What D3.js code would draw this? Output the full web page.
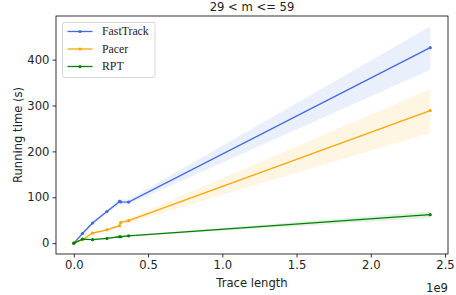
<!DOCTYPE html>
<html>
<head>
<meta charset="utf-8">
<script src="https://cdn.jsdelivr.net/npm/d3@7"></script>
<style>
  body { margin: 0; background: #fff; }
  svg text { font-family: "DejaVu Sans", sans-serif; fill: #222; }
</style>
</head>
<body>
<script>

// data
var traceLength = [0, 0.058e9, 0.126e9, 0.223e9, 0.308e9, 0.315e9, 0.369e9, 2.4e9];

var fastTrack      = [0, 21, 44, 69, 91, 90, 89.5, 426];
var fastTrackLow   = [0, 19, 40, 65, 85, 84, 84, 378];
var fastTrackHigh  = [0, 23, 48, 73, 97, 96, 95, 472];

var pacer      = [0, 7.6, 22, 29, 38, 45, 49, 289];
var pacerLow   = [0, 6.5, 20, 27, 35, 41, 44, 240];
var pacerHigh  = [0, 8.5, 24, 31, 41, 49, 54, 336];

var rpt      = [0, 9, 7.6, 10.4, 14, 14, 16, 62];
var rptLow   = [0, 8, 6.8, 9.5, 12.8, 12.8, 14.6, 55];
var rptHigh  = [0, 10, 8.4, 11.3, 15.2, 15.2, 17.4, 69];

var xTicks = [0, 0.5e9, 1.0e9, 1.5e9, 2.0e9, 2.5e9];
var yTicks = [0, 100, 200, 300, 400];

var seriesNames = ["FastTrack", "Pacer", "RPT"];
var seriesColors = ["#4169e1", "#ffa500", "#008000"];

var W = 456, H = 295;
var plot = {left: 56, right: 448, top: 16, bottom: 254};
var fs = "11.6px";

var xScale = d3.scaleLinear().domain([-0.12e9, 2.52e9]).range([plot.left, plot.right]);
var yScale = d3.scaleLinear().domain([-23.6, 495]).range([plot.bottom, plot.top]);

var svg = d3.select("body").append("svg")
    .attr("width", W)
    .attr("height", H);

function makeSeries(vals, low, high) {
    return traceLength.map(function(x, i) {
        return {x: x, y: vals[i], lo: low[i], hi: high[i]};
    });
}

var allSeries = [
    makeSeries(fastTrack, fastTrackLow, fastTrackHigh),
    makeSeries(pacer, pacerLow, pacerHigh),
    makeSeries(rpt, rptLow, rptHigh)
];

var area = d3.area()
    .x(function(d) { return xScale(d.x); })
    .y0(function(d) { return yScale(d.lo); })
    .y1(function(d) { return yScale(d.hi); });

var line = d3.line()
    .x(function(d) { return xScale(d.x); })
    .y(function(d) { return yScale(d.y); });

// bands first, then lines
allSeries.forEach(function(s, i) {
    svg.append("path")
        .attr("d", area(s))
        .attr("fill", seriesColors[i])
        .attr("fill-opacity", 0.11)
        .attr("stroke", "none");
});

allSeries.forEach(function(s, i) {
    svg.append("path")
        .attr("d", line(s))
        .attr("fill", "none")
        .attr("stroke", seriesColors[i])
        .attr("stroke-width", 1.3);

    svg.selectAll(".pt" + i).data(s).enter()
        .append("circle")
        .attr("class", "pt" + i)
        .attr("cx", function(d) { return xScale(d.x); })
        .attr("cy", function(d) { return yScale(d.y); })
        .attr("r", 1.6)
        .attr("fill", seriesColors[i]);
});

// axes
var xAxis = d3.axisBottom(xScale).tickValues(xTicks)
    .tickFormat(function(d) { return (d / 1e9).toFixed(1); })
    .tickSize(3.5).tickPadding(3);
var yAxis = d3.axisLeft(yScale).tickValues(yTicks)
    .tickFormat(d3.format("d"))
    .tickSize(3.5).tickPadding(3);

var gx = svg.append("g")
    .attr("transform", "translate(0," + plot.bottom + ")")
    .call(xAxis);
var gy = svg.append("g")
    .attr("transform", "translate(" + plot.left + ",0)")
    .call(yAxis);

[gx, gy].forEach(function(g) {
    g.select(".domain").remove();
    g.selectAll("line").attr("stroke", "#000").attr("stroke-width", 0.8);
    g.selectAll("text").style("font-size", fs).style("font-family", "DejaVu Sans").attr("fill", "#222");
});

// frame
svg.append("rect")
    .attr("x", plot.left)
    .attr("y", plot.top)
    .attr("width", plot.right - plot.left)
    .attr("height", plot.bottom - plot.top)
    .attr("fill", "none")
    .attr("stroke", "#000")
    .attr("stroke-width", 0.8);

// labels
svg.append("text")
    .attr("x", (plot.left + plot.right) / 2)
    .attr("y", 11)
    .attr("text-anchor", "middle")
    .style("font-size", fs)
    .text("29 < m <= 59");

svg.append("text")
    .attr("x", (plot.left + plot.right) / 2)
    .attr("y", 287)
    .attr("text-anchor", "middle")
    .style("font-size", fs)
    .text("Trace length");

svg.append("text")
    .attr("x", plot.right)
    .attr("y", 292)
    .attr("text-anchor", "end")
    .style("font-size", fs)
    .text("1e9");

svg.append("text")
    .attr("transform", "translate(22," + ((plot.top + plot.bottom) / 2) + ") rotate(-90)")
    .attr("text-anchor", "middle")
    .style("font-size", fs)
    .text("Running time (s)");

// legend
var legend = svg.append("g").attr("transform", "translate(62.5,22.5)");
legend.append("rect")
    .attr("width", 92.5)
    .attr("height", 55)
    .attr("rx", 2)
    .attr("fill", "#fff")
    .attr("fill-opacity", 0.8)
    .attr("stroke", "#ccc")
    .attr("stroke-width", 0.8);

seriesNames.forEach(function(name, i) {
    var yy = 9 + i * 17.5;
    legend.append("line")
        .attr("x1", 5).attr("x2", 30)
        .attr("y1", yy).attr("y2", yy)
        .attr("stroke", seriesColors[i])
        .attr("stroke-width", 1.3);
    legend.append("circle")
        .attr("cx", 17.5).attr("cy", yy).attr("r", 1.6)
        .attr("fill", seriesColors[i]);
    legend.append("text")
        .attr("x", 39.5)
        .attr("y", yy + 3.8)
        .style("font-family", "Liberation Serif, serif")
        .style("font-size", "11.8px")
        .text(name);
});

</script>
</body>
</html>
